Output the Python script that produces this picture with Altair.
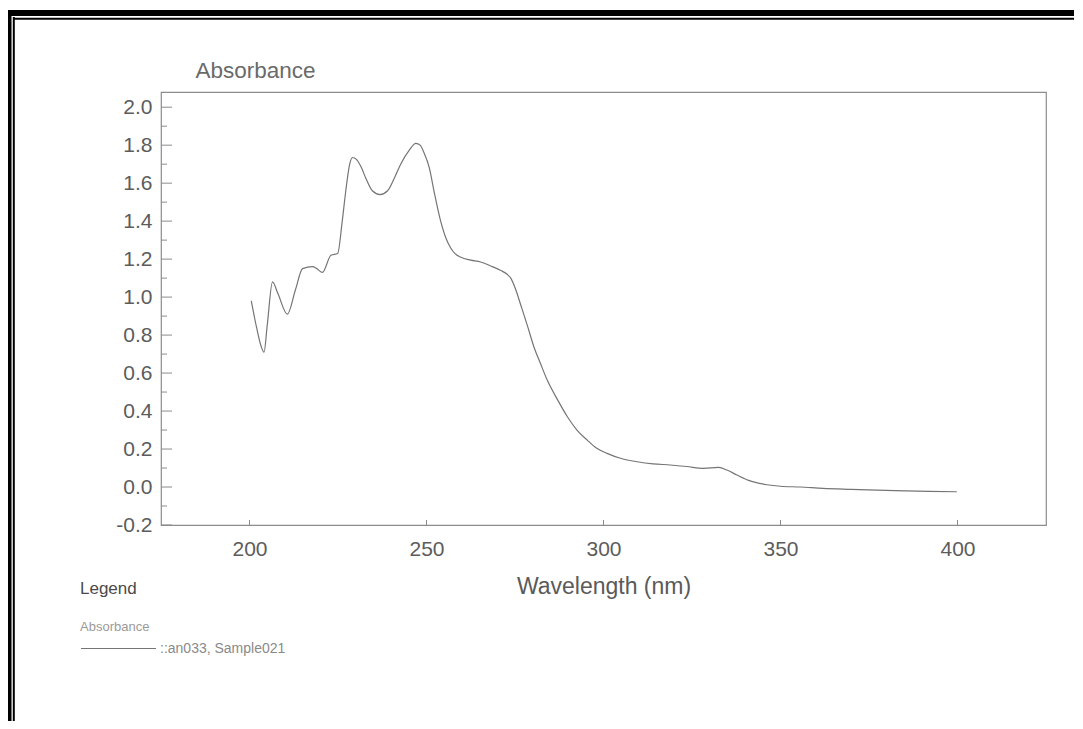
import altair as alt
import pandas as pd

# ---- data ----
wavelength = [200.5, 202, 203.3, 204.1, 205, 206.5, 208, 210.7, 213, 215, 217.8, 219,
              220.6, 223, 224.9, 226.2, 227.2, 228.3, 229.1, 230.2, 231.4, 233, 234.7,
              236.9, 239, 241, 242.7, 245, 247, 248.2, 249.3, 250.8, 252.1, 254, 255.5,
              256.8, 258, 259.7, 262.5, 265.3, 268, 271, 272.8, 273.8, 275.2, 276.6,
              278.5, 280.3, 282.2, 284.1, 287, 289.8, 292.5, 295.4, 298, 301, 305,
              309.5, 314, 318.9, 323.5, 328.3, 332.5, 335, 337.7, 341, 346.2, 350,
              355.6, 362, 370, 377.2, 385, 392, 399.8]
absorbance = [0.98, 0.84, 0.74, 0.71, 0.85, 1.08, 1.02, 0.91, 1.04, 1.15, 1.16, 1.15,
              1.13, 1.22, 1.23, 1.40, 1.56, 1.70, 1.735, 1.725, 1.69, 1.62, 1.56,
              1.54, 1.56, 1.63, 1.70, 1.77, 1.81, 1.80, 1.76, 1.68, 1.56, 1.40, 1.31,
              1.26, 1.23, 1.21, 1.195, 1.185, 1.165, 1.14, 1.12, 1.10, 1.04, 0.96,
              0.85, 0.74, 0.65, 0.563, 0.46, 0.37, 0.30, 0.247, 0.205, 0.177, 0.15,
              0.133, 0.122, 0.116, 0.108, 0.098, 0.103, 0.088, 0.063, 0.035, 0.012, 0.004,
              0.0, -0.007, -0.012, -0.016, -0.02, -0.023, -0.025]
series_name = "::an033, Sample021"

x_ticks = [200, 250, 300, 350, 400]
y_major = [-0.2, 0.0, 0.2, 0.4, 0.6, 0.8, 1.0, 1.2, 1.4, 1.6, 1.8, 2.0]
y_minor = [-0.1, 0.1, 0.3, 0.5, 0.7, 0.9, 1.1, 1.3, 1.5, 1.7, 1.9]

x_title = "Wavelength (nm)"
y_title = "Absorbance"
legend_title = "Legend"
legend_group = "Absorbance"

W, H = 885, 433
FONT = "Liberation Sans"
LINE = "#757575"
FRAME = "#8c8c8c"

df = pd.DataFrame({"wl": wavelength, "ab": absorbance, "series": [series_name] * len(wavelength)})
ymaj_df = pd.DataFrame({"ab": y_major})
ymin_df = pd.DataFrame({"ab": y_minor})
xt_df = pd.DataFrame({"wl": x_ticks})
one = pd.DataFrame({"k": [0]})

xscale = alt.Scale(domain=[175, 425], nice=False, zero=False)
yscale = alt.Scale(domain=[-0.2, 2.08], nice=False, zero=False)

xaxis = alt.Axis(title=x_title, values=x_ticks, format="d", labelPadding=13,
                 titleY=61, titleBaseline="middle", titleFontSize=23,
                 titleColor="#5a5a5a", titleFontWeight="normal")
yaxis = alt.Axis(title=y_title, values=y_major, labelPadding=9,
                 labelExpr="datum.value < 0 ? '-' + format(-datum.value, '.1f') : format(datum.value, '.1f')",
                 titleAngle=0, titleAlign="left", titleBaseline="middle",
                 titleX=34, titleY=-22, titleFontSize=22.5, titleColor="#6a6a6a",
                 titleFontWeight="normal")

line = alt.Chart(df).mark_line(strokeWidth=1.2, interpolate="monotone").encode(
    x=alt.X("wl:Q", scale=xscale, axis=xaxis),
    y=alt.Y("ab:Q", scale=yscale, axis=yaxis),
    color=alt.Color("series:N", scale=alt.Scale(range=[LINE]),
                    legend=alt.Legend(title=legend_title, orient="none",
                                      legendX=-81, legendY=489,
                                      symbolType="stroke", symbolSize=5625,
                                      symbolStrokeWidth=1.2, symbolStrokeColor=LINE,
                                      titlePadding=12, padding=0, labelOffset=3)),
)

ymaj = alt.Chart(ymaj_df).mark_rule(color=FRAME, strokeWidth=1).encode(
    y=alt.Y("ab:Q", scale=yscale, axis=yaxis), x=alt.value(0), x2=alt.value(11))
ymin = alt.Chart(ymin_df).mark_rule(color=FRAME, strokeWidth=1).encode(
    y=alt.Y("ab:Q", scale=yscale, axis=yaxis), x=alt.value(0), x2=alt.value(6))
xt = alt.Chart(xt_df).mark_rule(color=FRAME, strokeWidth=1).encode(
    x=alt.X("wl:Q", scale=xscale, axis=xaxis), y=alt.value(H), y2=alt.value(H - 5))

sub = alt.Chart(one).mark_text(text=legend_group, align="left", baseline="middle",
                               fontSize=13, color="#9a9a9a", font=FONT).encode(
    x=alt.value(-81), y=alt.value(535))

# page frame (scanned page border, top and left)
b_thick_left = alt.Chart(one).mark_rule(color="black", strokeWidth=4.5).encode(
    x=alt.value(-151.75), y=alt.value(-82), y2=alt.value(629))
b_thin_left = alt.Chart(one).mark_rule(color="black", strokeWidth=2).encode(
    x=alt.value(-147.2), y=alt.value(-75), y2=alt.value(629))
b_thick_top = alt.Chart(one).mark_rule(color="black", strokeWidth=6).encode(
    y=alt.value(-79), x=alt.value(-156), x2=alt.value(920))
b_thin_top = alt.Chart(one).mark_rule(color="black", strokeWidth=2).encode(
    y=alt.value(-73.2), x=alt.value(-148), x2=alt.value(920))

chart = alt.layer(line, ymaj, ymin, xt, sub,
                  b_thick_left, b_thin_left, b_thick_top, b_thin_top).properties(
    width=W, height=H,
    autosize=alt.AutoSizeParams(type="none"),
    padding={"left": 153, "top": 84, "right": 28, "bottom": 196},
    background="white",
).configure_view(
    stroke=FRAME, strokeWidth=1.2
).configure_axis(
    labelFont=FONT, titleFont=FONT, labelFontSize=21, labelColor="#5c5c5c",
    ticks=False, domain=False, grid=False
).configure_legend(
    titleFont=FONT, labelFont=FONT, titleFontSize=17, titleColor="#4a4a4a",
    titleFontWeight="normal", labelFontSize=14, labelColor="#8a8a8a"
)

chart.save("out.html", embed_options={"renderer": "svg", "actions": False})
